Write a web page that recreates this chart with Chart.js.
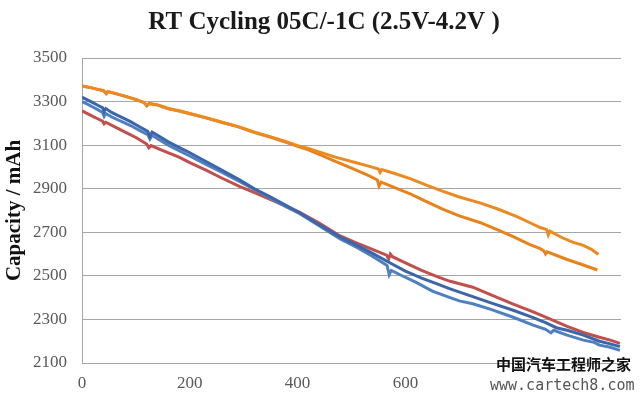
<!DOCTYPE html>
<html>
<head>
<meta charset="utf-8">
<script src="https://cdn.jsdelivr.net/npm/chart.js@4.4.1/dist/chart.umd.min.js"></script>
<style>
  html, body { margin: 0; padding: 0; background: #ffffff; }
  #wrap { width: 640px; height: 399px; position: relative; }
</style>
</head>
<body>
<div id="wrap"><canvas id="c" width="640" height="399"></canvas></div>
<script>
// ---- Data ----
const titleText = "RT Cycling 05C/-1C (2.5V-4.2V )";
const yAxisTitle = "Capacity / mAh";
const xTicks = [0, 200, 400, 600, 800, 1000];
const yTicks = [2100, 2300, 2500, 2700, 2900, 3100, 3300, 3500];

const blueACycles = [0,10,20,30,38,41,44,55,70,90,110,122,126,130,140,160,180,200,230,260,293,320,350,380,404,440,479,510,540,571,600,630,660,683,725,760,800,837,860,880,900,930,960,980,998];
const blueACap    = [3320,3308,3295,3282,3272,3255,3268,3250,3232,3208,3180,3163,3140,3160,3145,3115,3090,3065,3025,2985,2940,2900,2862,2822,2790,2735,2678,2640,2602,2560,2522,2490,2462,2440,2405,2375,2342,2308,2285,2262,2250,2228,2200,2188,2175];

const blueBCycles = [0,10,20,30,38,41,44,55,70,90,110,122,126,130,140,160,180,200,230,260,293,320,350,380,404,440,479,510,540,566,570,574,590,620,650,683,700,725,760,800,837,860,870,875,900,930,950,960,980,998];
const blueBCap    = [3300,3288,3275,3262,3250,3232,3245,3230,3212,3190,3163,3148,3128,3145,3130,3100,3075,3050,3012,2975,2932,2895,2855,2815,2785,2730,2670,2630,2588,2548,2505,2525,2505,2470,2430,2400,2385,2372,2345,2310,2274,2255,2238,2250,2228,2205,2195,2182,2172,2158];

const redCycles = [0,10,20,30,38,41,44,60,80,100,120,124,128,150,180,200,230,260,293,320,350,380,404,440,479,510,540,565,569,572,576,600,630,660,683,725,760,800,837,870,900,930,960,980,998];
const redCap    = [3258,3245,3232,3220,3210,3198,3205,3185,3160,3135,3105,3088,3098,3075,3045,3020,2985,2948,2910,2882,2850,2818,2792,2742,2683,2650,2620,2595,2578,2600,2588,2560,2525,2495,2475,2448,2412,2370,2335,2300,2268,2240,2218,2205,2190];

const orangeACycles = [0,15,30,40,45,48,55,80,100,115,120,125,140,160,180,200,230,260,290,320,350,380,400,420,441,470,500,530,550,553,556,580,610,640,670,700,738,770,807,830,850,862,865,868,890,910,930,945,958];
const orangeACap    = [3372,3365,3355,3350,3336,3345,3342,3325,3310,3296,3282,3292,3285,3268,3258,3245,3226,3205,3185,3160,3138,3115,3098,3085,3068,3045,3025,3005,2990,2975,2988,2970,2945,2915,2888,2862,2835,2808,2772,2745,2722,2712,2688,2705,2676,2655,2640,2622,2598];

const orangeBCycles = [0,15,30,40,45,48,55,80,100,115,120,125,140,160,180,200,230,260,290,320,350,380,400,420,441,470,500,530,548,551,555,580,610,640,670,700,738,770,800,830,850,857,860,863,900,930,956];
const orangeBCap    = [3372,3364,3356,3349,3338,3346,3341,3324,3309,3295,3280,3290,3284,3267,3257,3244,3225,3204,3184,3158,3136,3112,3094,3078,3056,3025,2995,2962,2940,2912,2930,2905,2875,2840,2805,2775,2745,2712,2680,2645,2625,2614,2600,2610,2575,2550,2527];

const seriesColors = {
  blueA: "#3D65A8",
  blueB: "#4E80C2",
  red: "#C0504D",
  orangeA: "#EB8A22",
  orangeB: "#E8831B"
};

function pts(xs, ys) { return xs.map((x, i) => ({ x: x, y: ys[i] })); }

const serif = "'Liberation Serif', 'Times New Roman', serif";

const titlePlugin = {
  id: 'customTitle',
  afterDraw(chart) {
    const ctx = chart.ctx;
    ctx.save();
    ctx.fillStyle = "#1a1a1a";
    ctx.font = "bold 25px " + serif;
    ctx.textAlign = "center";
    ctx.textBaseline = "alphabetic";
    ctx.fillText(titleText, 324, 29);
    ctx.restore();
  }
};

const watermarkPlugin = {
  id: 'watermark',
  afterDraw(chart) {
    const ctx = chart.ctx;
    ctx.save();
    ctx.fillStyle = "#ffffff";
    ctx.fillRect(488, 374, 152, 22);
    ctx.fillStyle = "#111111";
    ctx.font = "bold 15px 'Noto Sans CJK SC'";
    ctx.textBaseline = "alphabetic";
    ctx.textAlign = "left";
    ctx.fillText("中国汽车工程师之家", 496, 370);
    ctx.fillStyle = "#555555";
    ctx.font = "15px 'DejaVu Sans Mono'";
    ctx.fillText("www.cartech8.com", 490, 390);
    ctx.restore();
  }
};

const ds = (label, xs, ys, color) => ({
  label: label,
  data: pts(xs, ys),
  borderColor: color,
  backgroundColor: color,
  borderWidth: 3,
  pointRadius: 0,
  tension: 0,
  fill: false
});

new Chart(document.getElementById('c'), {
  type: 'line',
  data: {
    datasets: [
      ds("Cell 1", blueACycles, blueACap, seriesColors.blueA),
      ds("Cell 2", blueBCycles, blueBCap, seriesColors.blueB),
      ds("Cell 3", redCycles, redCap, seriesColors.red),
      ds("Cell 4", orangeACycles, orangeACap, seriesColors.orangeA),
      ds("Cell 5", orangeBCycles, orangeBCap, seriesColors.orangeB)
    ]
  },
  options: {
    responsive: false,
    animation: false,
    devicePixelRatio: 1,
    layout: { padding: { left: 0, right: 19, top: 58, bottom: 0 } },
    plugins: {
      legend: { display: false },
      tooltip: { enabled: false },
      title: { display: false }
    },
    scales: {
      x: {
        type: 'linear',
        min: 0,
        max: 1000,
        afterBuildTicks(scale) { scale.ticks = xTicks.map(v => ({ value: v })); },
        afterFit(scale) { scale.height = 36; scale.paddingLeft = 0; scale.paddingRight = 0; },
        grid: { display: false, drawTicks: false },
        border: { display: true, color: "#a6a6a6", width: 1 },
        ticks: {
          padding: 10,
          color: "#595959",
          font: { family: serif, size: 17 },
          maxRotation: 0,
          callback: (v) => String(v)
        }
      },
      y: {
        min: 2100,
        max: 3500,
        afterBuildTicks(scale) { scale.ticks = yTicks.map(v => ({ value: v })); },
        afterFit(scale) { scale.width = 82; scale.paddingTop = 0; scale.paddingBottom = 0; },
        grid: { color: "#a6a6a6", lineWidth: 1, drawTicks: false },
        border: { display: true, color: "#a6a6a6", width: 1 },
        ticks: {
          padding: 15,
          color: "#595959",
          font: { family: serif, size: 17 },
          callback: (v) => String(v)
        },
        title: {
          display: true,
          text: yAxisTitle,
          color: "#111111",
          font: { family: serif, size: 21, weight: 'bold', lineHeight: 1.2 },
          padding: { top: 2, bottom: 0 }
        }
      }
    }
  },
  plugins: [titlePlugin, watermarkPlugin]
});
</script>
</body>
</html>
